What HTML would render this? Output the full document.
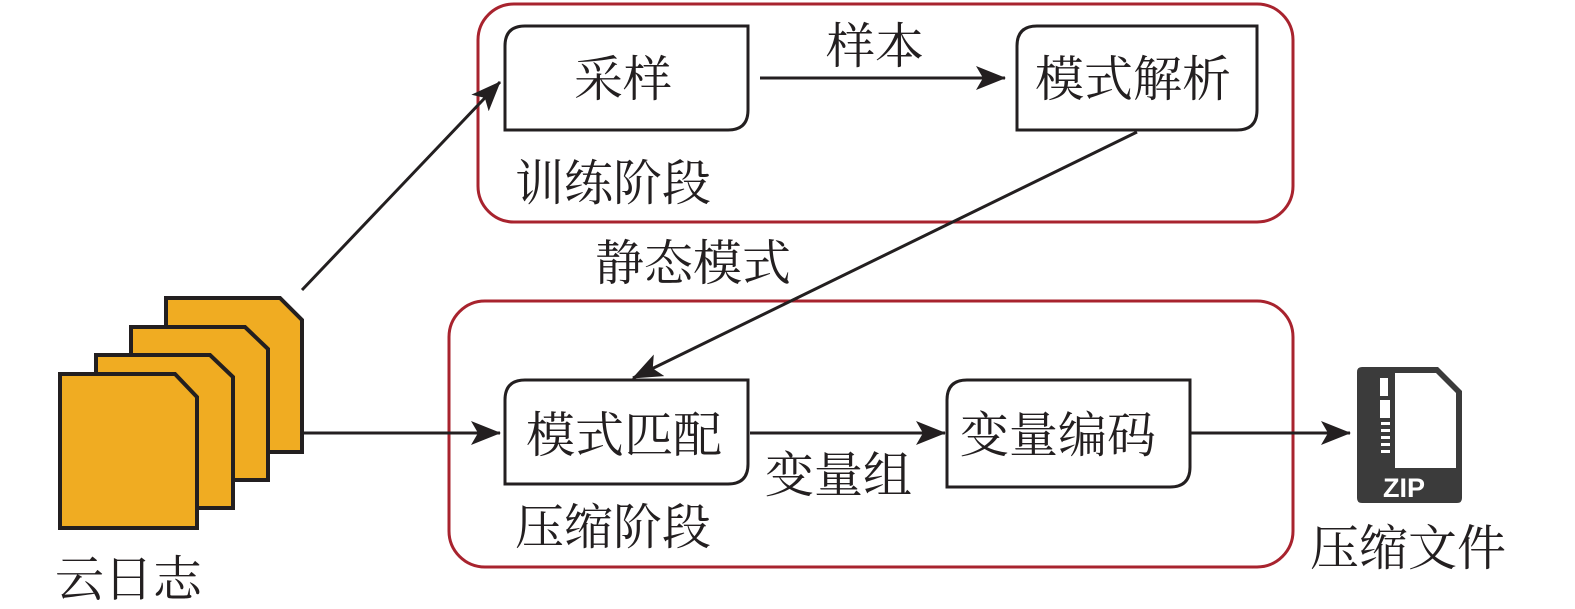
<!DOCTYPE html>
<html><head><meta charset="utf-8"><style>
body{margin:0;background:#fff}
text{font-family:"Liberation Serif","Noto Serif CJK SC",serif;font-size:49px;fill:#231f20}
</style></head><body>
<svg width="1575" height="604" viewBox="0 0 1575 604" xmlns="http://www.w3.org/2000/svg">
<defs>
<marker id="b" viewBox="0 0 30 24" refX="29" refY="12" markerWidth="30" markerHeight="24" orient="auto" markerUnits="userSpaceOnUse"><path d="M0,0 L30,12 L0,24 L7,12z" fill="#231f20"/></marker></defs>
<rect x="478" y="4" width="815" height="218" rx="36" fill="none" stroke="#a8232e" stroke-width="3"/>
<rect x="449" y="301" width="844" height="266" rx="36" fill="none" stroke="#a8232e" stroke-width="3"/>
<g fill="#fff" stroke="#231f20" stroke-width="3">
<path d="M525,26 H748 V110 Q748,130 728,130 H505 V46 Q505,26 525,26z"/>
<path d="M1037,26 H1257 V110 Q1257,130 1237,130 H1017 V46 Q1017,26 1037,26z"/>
<path d="M525,380 H748 V464 Q748,484 728,484 H505 V400 Q505,380 525,380z"/>
<path d="M967,380 H1190 V467 Q1190,487 1170,487 H947 V400 Q947,380 967,380z"/>
</g>
<g stroke="#231f20" stroke-width="3" fill="none">
<line x1="302" y1="290" x2="500" y2="82" marker-end="url(#b)"/>
<line x1="760" y1="78" x2="1005" y2="78" marker-end="url(#b)"/>
<line x1="1137" y1="132" x2="633" y2="378" marker-end="url(#b)"/>
<line x1="302" y1="433" x2="500" y2="433" marker-end="url(#b)"/>
<line x1="750" y1="433" x2="945" y2="433" marker-end="url(#b)"/>
<line x1="1190" y1="433" x2="1350" y2="433" marker-end="url(#b)"/>
</g>
<g fill="#f0ac22" stroke="#231f20" stroke-width="4">
<path d="M166,298 H280 L302,320 V452 H166z"/>
<path d="M131,327 H245 L268,349 V480 H131z"/>
<path d="M96,355 H210 L233,377 V508 H96z"/>
<path d="M60,374 H175 L197,397 V528 H60z"/>
</g>
<path d="M1362,367 H1438 L1462,391 V498 Q1462,503 1457,503 H1362 Q1357,503 1357,498 V372 Q1357,367 1362,367z" fill="#3b3b3b"/>
<path d="M1395,373 H1436 L1456,393 V468 H1395z" fill="#fff"/>
<rect x="1375" y="373" width="20" height="95" fill="#3b3b3b"/>
<g fill="#fff"><rect x="1380" y="378" width="8" height="18"/><rect x="1380" y="400" width="10" height="18"/>
<rect x="1381" y="422" width="9" height="3"/><rect x="1381" y="429" width="9" height="3"/><rect x="1381" y="436" width="9" height="3"/><rect x="1381" y="443" width="9" height="3"/><rect x="1381" y="450" width="9" height="3"/></g>
<text x="1383" y="497" style="font-family:'Liberation Sans',sans-serif;font-weight:bold;font-size:27px;fill:#fff">ZIP</text>
<text x="574" y="96">采样</text>
<text x="826" y="63">样本</text>
<text x="1035" y="96">模式解析</text>
<text x="515" y="200">训练阶段</text>
<text x="595" y="280">静态模式</text>
<text x="526" y="452">模式匹配</text>
<text x="960" y="452">变量编码</text>
<text x="765" y="492">变量组</text>
<text x="515" y="544">压缩阶段</text>
<text x="55" y="596">云日志</text>
<text x="1310" y="565">压缩文件</text>
</svg>
</body></html>
